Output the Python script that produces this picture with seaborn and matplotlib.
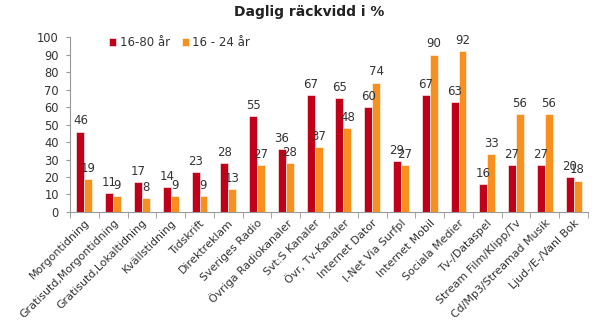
import matplotlib
matplotlib.use("Agg")
import matplotlib.pyplot as plt
import seaborn as sns
import pandas as pd
import numpy as np

categories = ["Morgontidning", "Gratisutd,Morgontidning", "Gratisutd,Lokaltidning", "Kvällstidning",
              "Tidskrift", "Direktreklam", "Sveriges Radio", "Övriga Radiokanaler", "Svt:S Kanaler",
              "Övr, Tv-Kanaler", "Internet Dator", "I-Net Via Surfpl", "Internet Mobil", "Sociala Medier",
              "Tv-/Dataspel", "Stream Film/Klipp/Tv", "Cd/Mp3/Streamad Musik", "Ljud-/E-/Vanl Bok"]
series_names = ["16-80 år", "16 - 24 år"]
vals_all = [46, 11, 17, 14, 23, 28, 55, 36, 67, 65, 60, 29, 67, 63, 16, 27, 27, 20]
vals_young = [19, 9, 8, 9, 9, 13, 27, 28, 37, 48, 74, 27, 90, 92, 33, 56, 56, 18]
colors = ["#C00018", "#F7901E"]

df = pd.DataFrame({
    "cat": categories * 2,
    "val": vals_all + vals_young,
    "series": [series_names[0]] * len(categories) + [series_names[1]] * len(categories),
})

sns.set_style("white")
plt.rcParams["font.family"] = ["DejaVu Sans"]

fig = plt.figure(figsize=(6.0, 3.24), dpi=100)
ax = fig.add_axes([0.1167, 0.3457, 0.8633, 0.540])
sns.barplot(data=df, x="cat", y="val", hue="series", palette=colors, width=0.55,
            ax=ax, saturation=1, edgecolor="white", linewidth=0.4)

for cont in ax.containers:
    ax.bar_label(cont, fmt="%d", fontsize=8.5, color="#333333", padding=3)

ax.set_ylim(0, 100)
ax.set_yticks(range(0, 101, 10))
ax.set_xlim(-0.5, len(categories) - 0.5)
ax.set_xlabel("")
ax.set_ylabel("")
ax.tick_params(axis="y", labelsize=8.3, colors="#333333", length=3, direction="out", left=True, pad=5)
ax.tick_params(axis="y", color="#999999")
ax.set_xticks(range(len(categories)))
ax.set_xticklabels(categories, rotation=45, ha="right", rotation_mode="anchor", fontsize=7.9, color="#333333")
ax.tick_params(axis="x", length=0, pad=4)
ax.set_xticks(np.arange(-0.5, len(categories), 1), minor=True)
ax.tick_params(axis="x", which="minor", length=4, color="#999999", direction="out", bottom=True)
for s in ["top", "right"]:
    ax.spines[s].set_visible(False)
for s in ["left", "bottom"]:
    ax.spines[s].set_color("#999999")
    ax.spines[s].set_linewidth(0.8)

leg = ax.legend(loc="upper left", bbox_to_anchor=(0.055, 1.065), ncol=2, frameon=False, fontsize=8.5,
                handlelength=0.6, handleheight=0.6, handletextpad=0.3, columnspacing=1.0)
for t in leg.get_texts():
    t.set_color("#333333")

fig.suptitle("Daglig räckvidd i %", x=0.515, y=0.985, fontsize=10, fontweight="bold", color="#222222")

fig.savefig("out.png", dpi=100)
